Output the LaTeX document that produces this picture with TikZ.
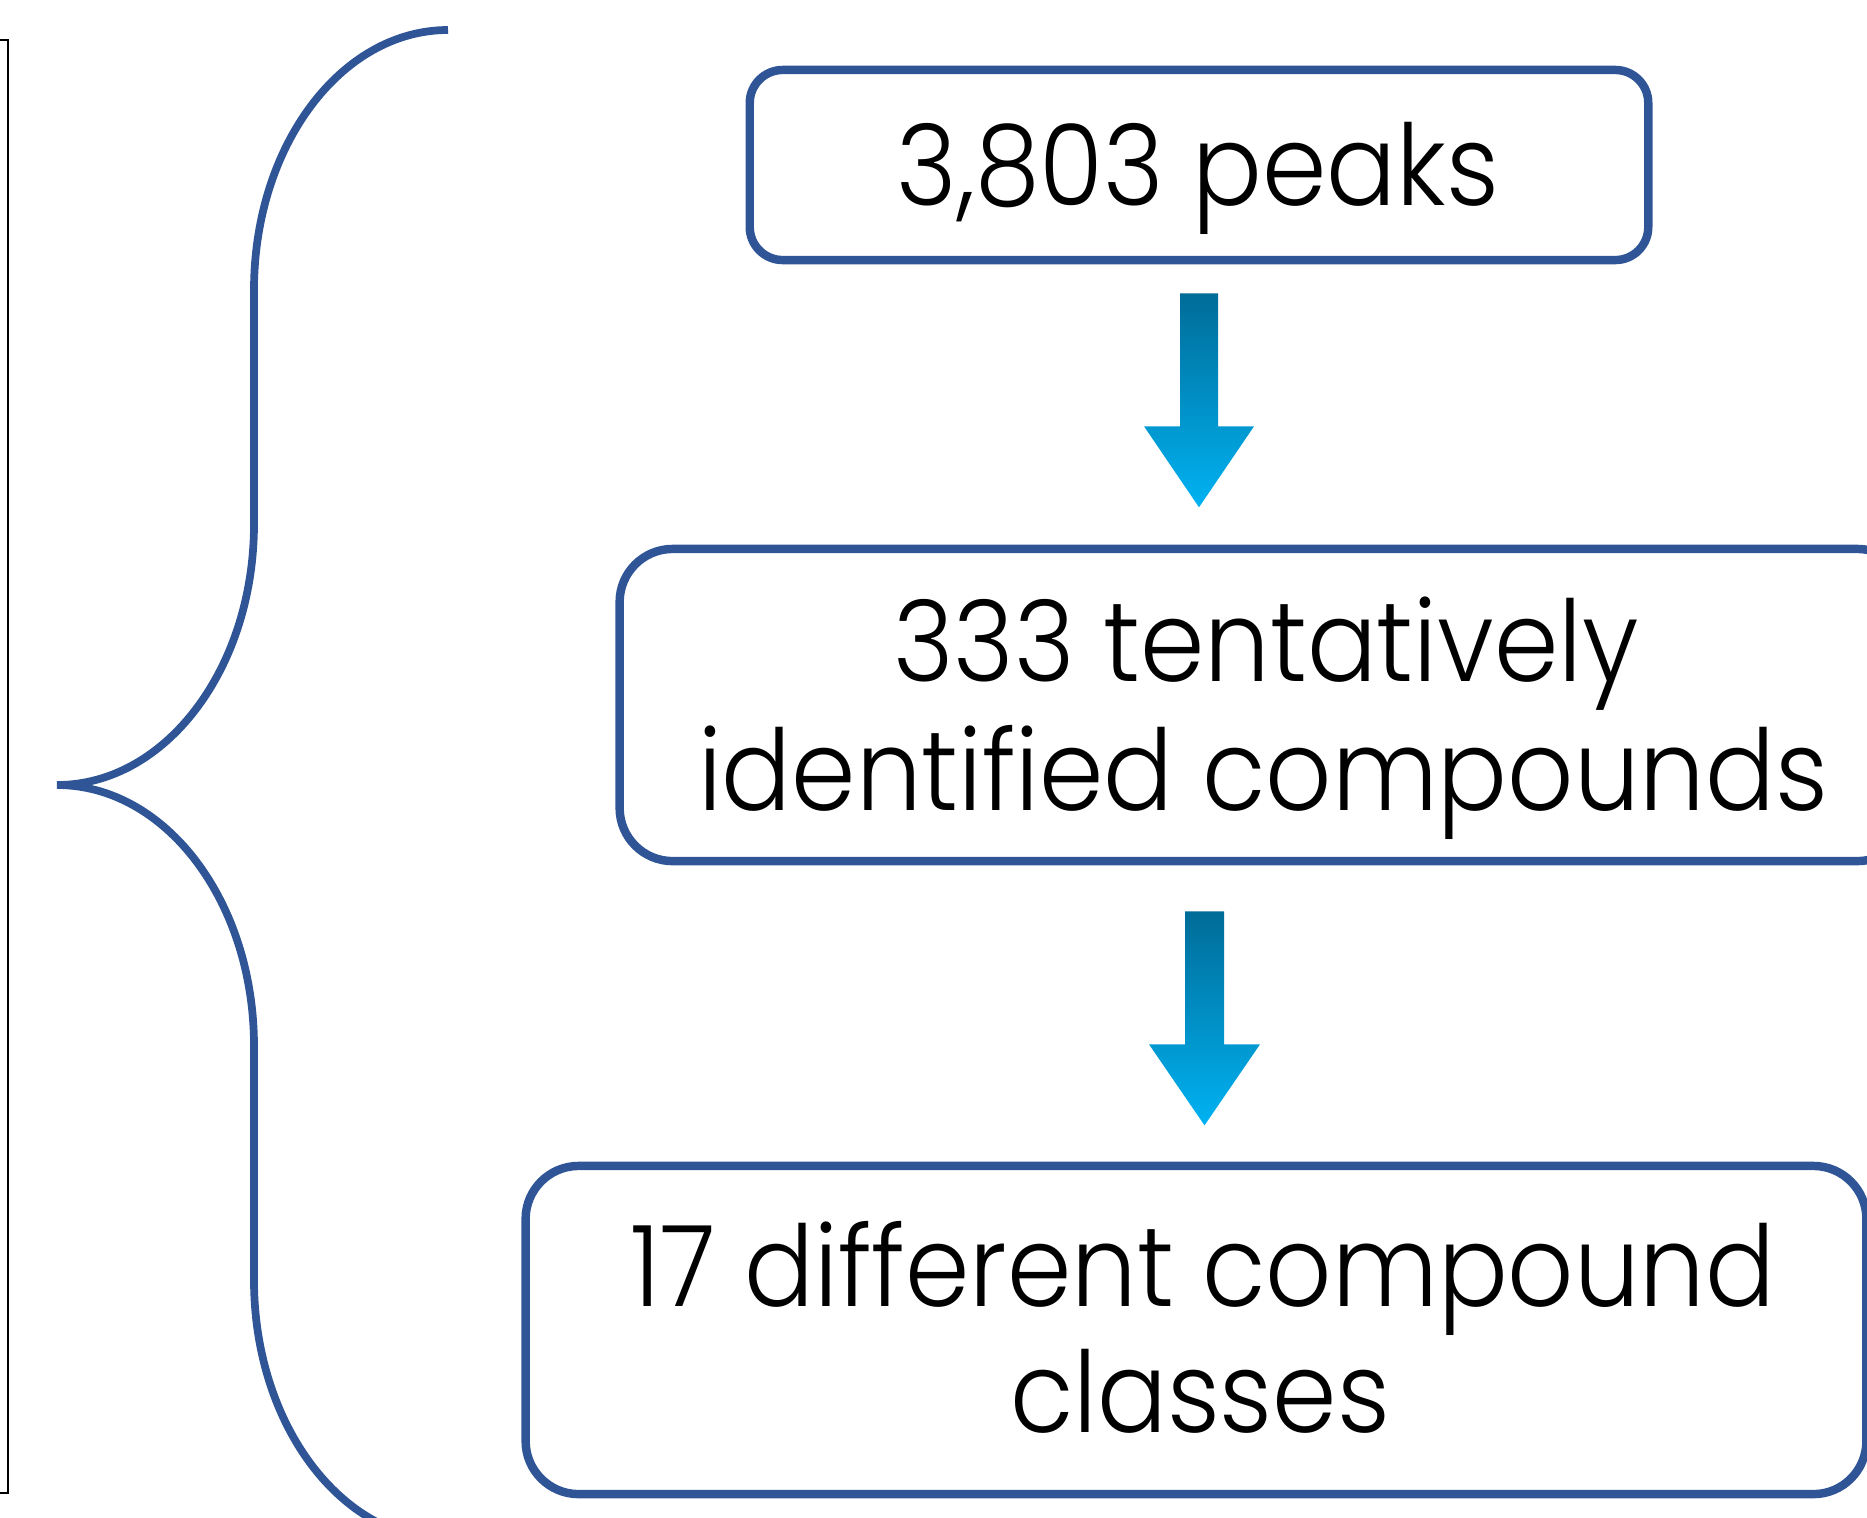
\documentclass[tikz,border=0pt]{standalone}
\usepackage{fontspec}
\setmainfont{Poppins Light}[FakeStretch=0.92]
\usetikzlibrary{calc}
\definecolor{boxblue}{HTML}{2F5597}
\definecolor{arrtop}{HTML}{006C98}
\definecolor{arrbot}{HTML}{00B2F2}
\begin{document}
\begin{tikzpicture}[x=0.01cm,y=-0.01cm,
  box/.style={draw=boxblue, line width=2.4pt, fill=none, inner sep=0pt},
  lbl/.style={inner sep=0pt, font=\fontsize{32pt}{37pt}\selectfont, text=black},
  bracestyle/.style={draw=boxblue, line width=2.2pt},
  blockarrow/.style={top color=arrtop, bottom color=arrbot, draw=none}]
\useasboundingbox (0,0) rectangle (1867,1517);
\clip (0,0) rectangle (1867,1517);
% left frame edge
\draw[line width=0.7pt] (-20,40) -- (8,40) -- (8,1493) -- (-20,1493);
% boxes
\node[box, rounded corners=0.33cm, minimum width=8.98cm, minimum height=1.90cm] (b1) at (1199,165) {};
\node[box, rounded corners=0.53cm, minimum width=12.90cm, minimum height=3.12cm] (b2) at (1265,705) {};
\node[box, rounded corners=0.53cm, minimum width=13.40cm, minimum height=3.28cm] (b3) at (1196,1330) {};
% texts
\node[lbl, anchor=base] (t1) at (1198,205) {3,803 peaks};
\node[lbl, anchor=base] (t2a) at (1266,681) {333 tentatively};
\node[lbl, anchor=base] (t2b) at (1263,810) {identified compounds};
\node[lbl, anchor=base] (t3a) at (1203,1306) {17 different compound};
\node[lbl, anchor=base] (t3b) at (1200,1432) {classes};
% block arrows
\coordinate (a1) at ($(b1.south)+(0,29)$);
\shade[blockarrow] (a1) ++(-19,0) -- ++(38,0) -- ++(0,133) -- ++(36,0) -- ++(-55,81) -- ++(-55,-81) -- ++(36,0) -- cycle;
\coordinate (a2) at ($(b2.south)+(-60.5,46)$);
\shade[blockarrow] (a2) ++(-19.5,0) -- ++(39,0) -- ++(0,133) -- ++(36,0) -- ++(-55.5,81) -- ++(-55.5,-81) -- ++(36,0) -- cycle;
% brace
\draw[bracestyle] (448,30) .. controls (341,30) and (254,146) .. (254,290)
  -- (254,524) .. controls (254,668) and (166,785) .. (57,785)
  .. controls (166,785) and (254,902) .. (254,1046)
  -- (254,1280) .. controls (254,1424) and (341,1540) .. (448,1540);
\end{tikzpicture}
\end{document}
